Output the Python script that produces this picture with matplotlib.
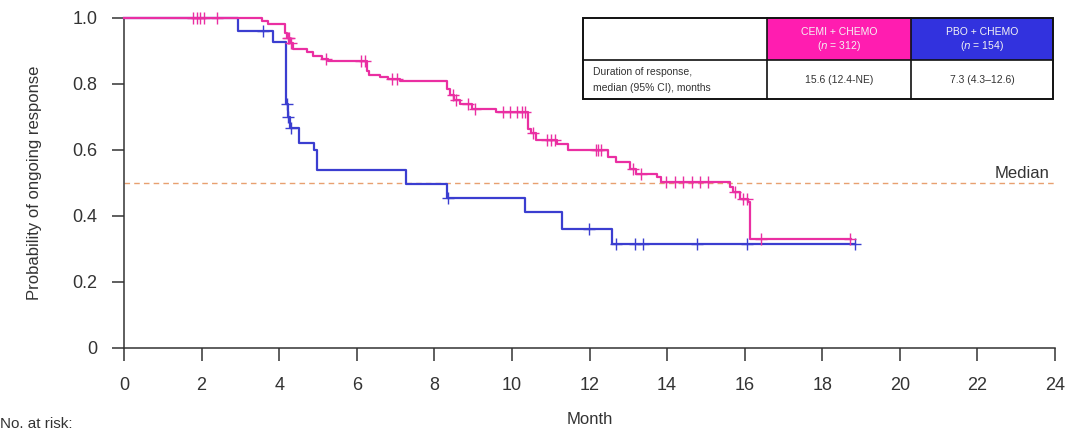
import numpy as np
import matplotlib
matplotlib.use("Agg")
import matplotlib.pyplot as plt
from matplotlib.patches import Rectangle

plt.rcParams['font.family'] = ['Liberation Sans', 'DejaVu Sans']

# ---- Kaplan-Meier step data (months, probability after each step) ----
cemi_times = [0, 3.55, 3.72, 4.15, 4.2, 4.28, 4.35, 4.71, 4.88, 5.1, 5.26, 6.26, 6.32,
              6.6, 6.8, 7.11, 8.32, 8.4, 8.5, 8.66, 8.96, 9.6, 10.42, 10.5, 10.63,
              11.15, 11.45, 12.47, 12.69, 13.04, 13.21, 13.73, 13.85, 15.62, 15.7,
              15.88, 16.09, 16.15]
cemi_surv = [1.0, 0.99, 0.983, 0.955, 0.94, 0.925, 0.907, 0.896, 0.886, 0.876, 0.868,
             0.838, 0.826, 0.82, 0.815, 0.808, 0.785, 0.765, 0.75, 0.74, 0.725, 0.715,
             0.664, 0.65, 0.629, 0.619, 0.60, 0.578, 0.563, 0.543, 0.528, 0.518,
             0.502, 0.487, 0.472, 0.452, 0.442, 0.328]
cemi_end = 18.75
cemi_censor = [1.78, 1.87, 1.96, 2.06, 2.39, 4.22, 4.26, 4.31, 5.2, 6.1, 6.2, 6.9, 7.03,
               8.49, 8.57, 8.87, 9.05, 9.77, 9.95, 10.12, 10.25, 10.33, 10.55, 10.9,
               11.02, 11.1, 12.18, 12.22, 12.3, 13.12, 13.34, 13.98, 14.2, 14.41,
               14.63, 14.85, 15.06, 15.75, 15.96, 16.05, 16.43, 18.71]

pbo_times = [0, 2.95, 3.84, 4.18, 4.22, 4.27, 4.5, 4.9, 4.97, 7.27, 8.32, 10.33, 11.3, 12.57]
pbo_surv = [1.0, 0.962, 0.927, 0.74, 0.70, 0.665, 0.62, 0.60, 0.538, 0.495, 0.454,
            0.41, 0.361, 0.313]
pbo_end = 18.84
pbo_censor = [3.58, 4.2, 4.24, 4.3, 8.34, 11.98, 12.69, 13.17, 13.38, 14.76, 16.05, 18.84]

x_ticks = list(range(0, 25, 2))
y_ticks = [0, 0.2, 0.4, 0.6, 0.8, 1.0]
y_tick_labels = ["0", "0.2", "0.4", "0.6", "0.8", "1.0"]

arm_labels = ["CEMI + CHEMO", "PBO + CHEMO"]
arm_n = ["312", "154"]
dor_values = ["15.6 (12.4-NE)", "7.3 (4.3\u201312.6)"]

PINK = "#EA2FA2"
BLUE = "#3B3ED0"
PINK_HEAD = "#FF1DB0"
BLUE_HEAD = "#3232DE"
TXT = "#333333"


def km_curve(times, surv, end):
    xs = list(times) + [end]
    ys = list(surv) + [surv[-1]]
    return xs, ys


def km_at(times, surv, t):
    idx = np.searchsorted(np.asarray(times), t, side="right") - 1
    return np.asarray(surv)[idx]


fig = plt.figure(figsize=(10.89, 4.32), dpi=100)
ax = fig.add_axes([124 / 1089, 1 - 347.5 / 432, (1055 - 124) / 1089, (347.5 - 18) / 432])

# median reference line
ax.plot([0, 24], [0.5, 0.5], color="#E8A070", lw=1.0, ls=(0, (4, 3)), zorder=1)
ax.text(23.85, 0.505, "Median", ha="right", va="bottom", fontsize=12, color=TXT)

for times, surv, end, cens, col in [
    (pbo_times, pbo_surv, pbo_end, pbo_censor, BLUE),
    (cemi_times, cemi_surv, cemi_end, cemi_censor, PINK),
]:
    xs, ys = km_curve(times, surv, end)
    ax.step(xs, ys, where="post", color=col, lw=1.6, zorder=3)
    cy = km_at(times, surv, np.asarray(cens))
    ax.plot(cens, cy, ls="none", marker="+", ms=8, mew=1.0, color=col, zorder=4)

ax.set_xlim(0, 24)
ax.set_ylim(0, 1.0)
ax.set_xticks(x_ticks)
ax.set_xticklabels([str(v) for v in x_ticks])
ax.set_yticks(y_ticks)
ax.set_yticklabels(y_tick_labels)
for s in ["top", "right"]:
    ax.spines[s].set_visible(False)
for s in ["left", "bottom"]:
    ax.spines[s].set_color("#333333")
    ax.spines[s].set_linewidth(1.1)
ax.tick_params(axis="both", length=9, width=1.1, color="#333333", labelsize=13,
               labelcolor=TXT)
ax.tick_params(axis="y", pad=10)
ax.tick_params(axis="x", pad=12)
for ln in ax.lines:
    ln.set_clip_on(False)

fig.text(35 / 1089, 1 - 183 / 432, "Probability of ongoing response", rotation=90,
         ha="center", va="center", fontsize=12, color=TXT)
fig.text(590 / 1089, 1 - 420 / 432, "Month", ha="center", va="center", fontsize=12,
         color=TXT)
fig.text(0.0, 1.5 / 432, "No. at risk:", ha="left", va="bottom", fontsize=11,
         color=TXT)

# summary table drawn in pixel coordinates on an overlay
ov = fig.add_axes([0, 0, 1, 1])
ov.set_xlim(0, 1089)
ov.set_ylim(432, 0)
ov.axis("off")

x0, x1, x2, x3 = 583, 767, 911, 1053
y0, y1, y2 = 18, 60, 99
ov.add_patch(Rectangle((x0, y0), x3 - x0, y2 - y0, facecolor="white", edgecolor="none", zorder=1))
ov.add_patch(Rectangle((x1, y0), x2 - x1, y1 - y0, facecolor=PINK_HEAD, edgecolor="none", zorder=2))
ov.add_patch(Rectangle((x2, y0), x3 - x2, y1 - y0, facecolor=BLUE_HEAD, edgecolor="none", zorder=2))
ov.add_patch(Rectangle((x0, y0), x3 - x0, y2 - y0, facecolor="none", edgecolor="#111111", lw=1.4, zorder=3))
ov.plot([x0, x3], [y1, y1], color="#111111", lw=1.2, zorder=3)
ov.plot([x1, x1], [y0, y2], color="#111111", lw=1.2, zorder=3)
ov.plot([x2, x2], [y0, y2], color="#111111", lw=1.2, zorder=3)

for (xa, xb), lab, n, val in zip([(x1, x2), (x2, x3)], arm_labels, arm_n, dor_values):
    xc = (xa + xb) / 2
    ov.text(xc, 32, lab, ha="center", va="center", fontsize=7.5, color="#F4F4F4", zorder=4)
    ov.text(xc, 46, r"($\it{n}$ = " + n + ")", ha="center", va="center", fontsize=7.5,
            color="#F4F4F4", zorder=4)
    ov.text(xc, 80, val, ha="center", va="center", fontsize=7.5, color=TXT, zorder=4)

ov.text(593, 72, "Duration of response,", ha="left", va="center", fontsize=7.5, color=TXT, zorder=4)
ov.text(593, 88, "median (95% CI), months", ha="left", va="center", fontsize=7.5, color=TXT, zorder=4)

fig.savefig("out.png", dpi=100)
